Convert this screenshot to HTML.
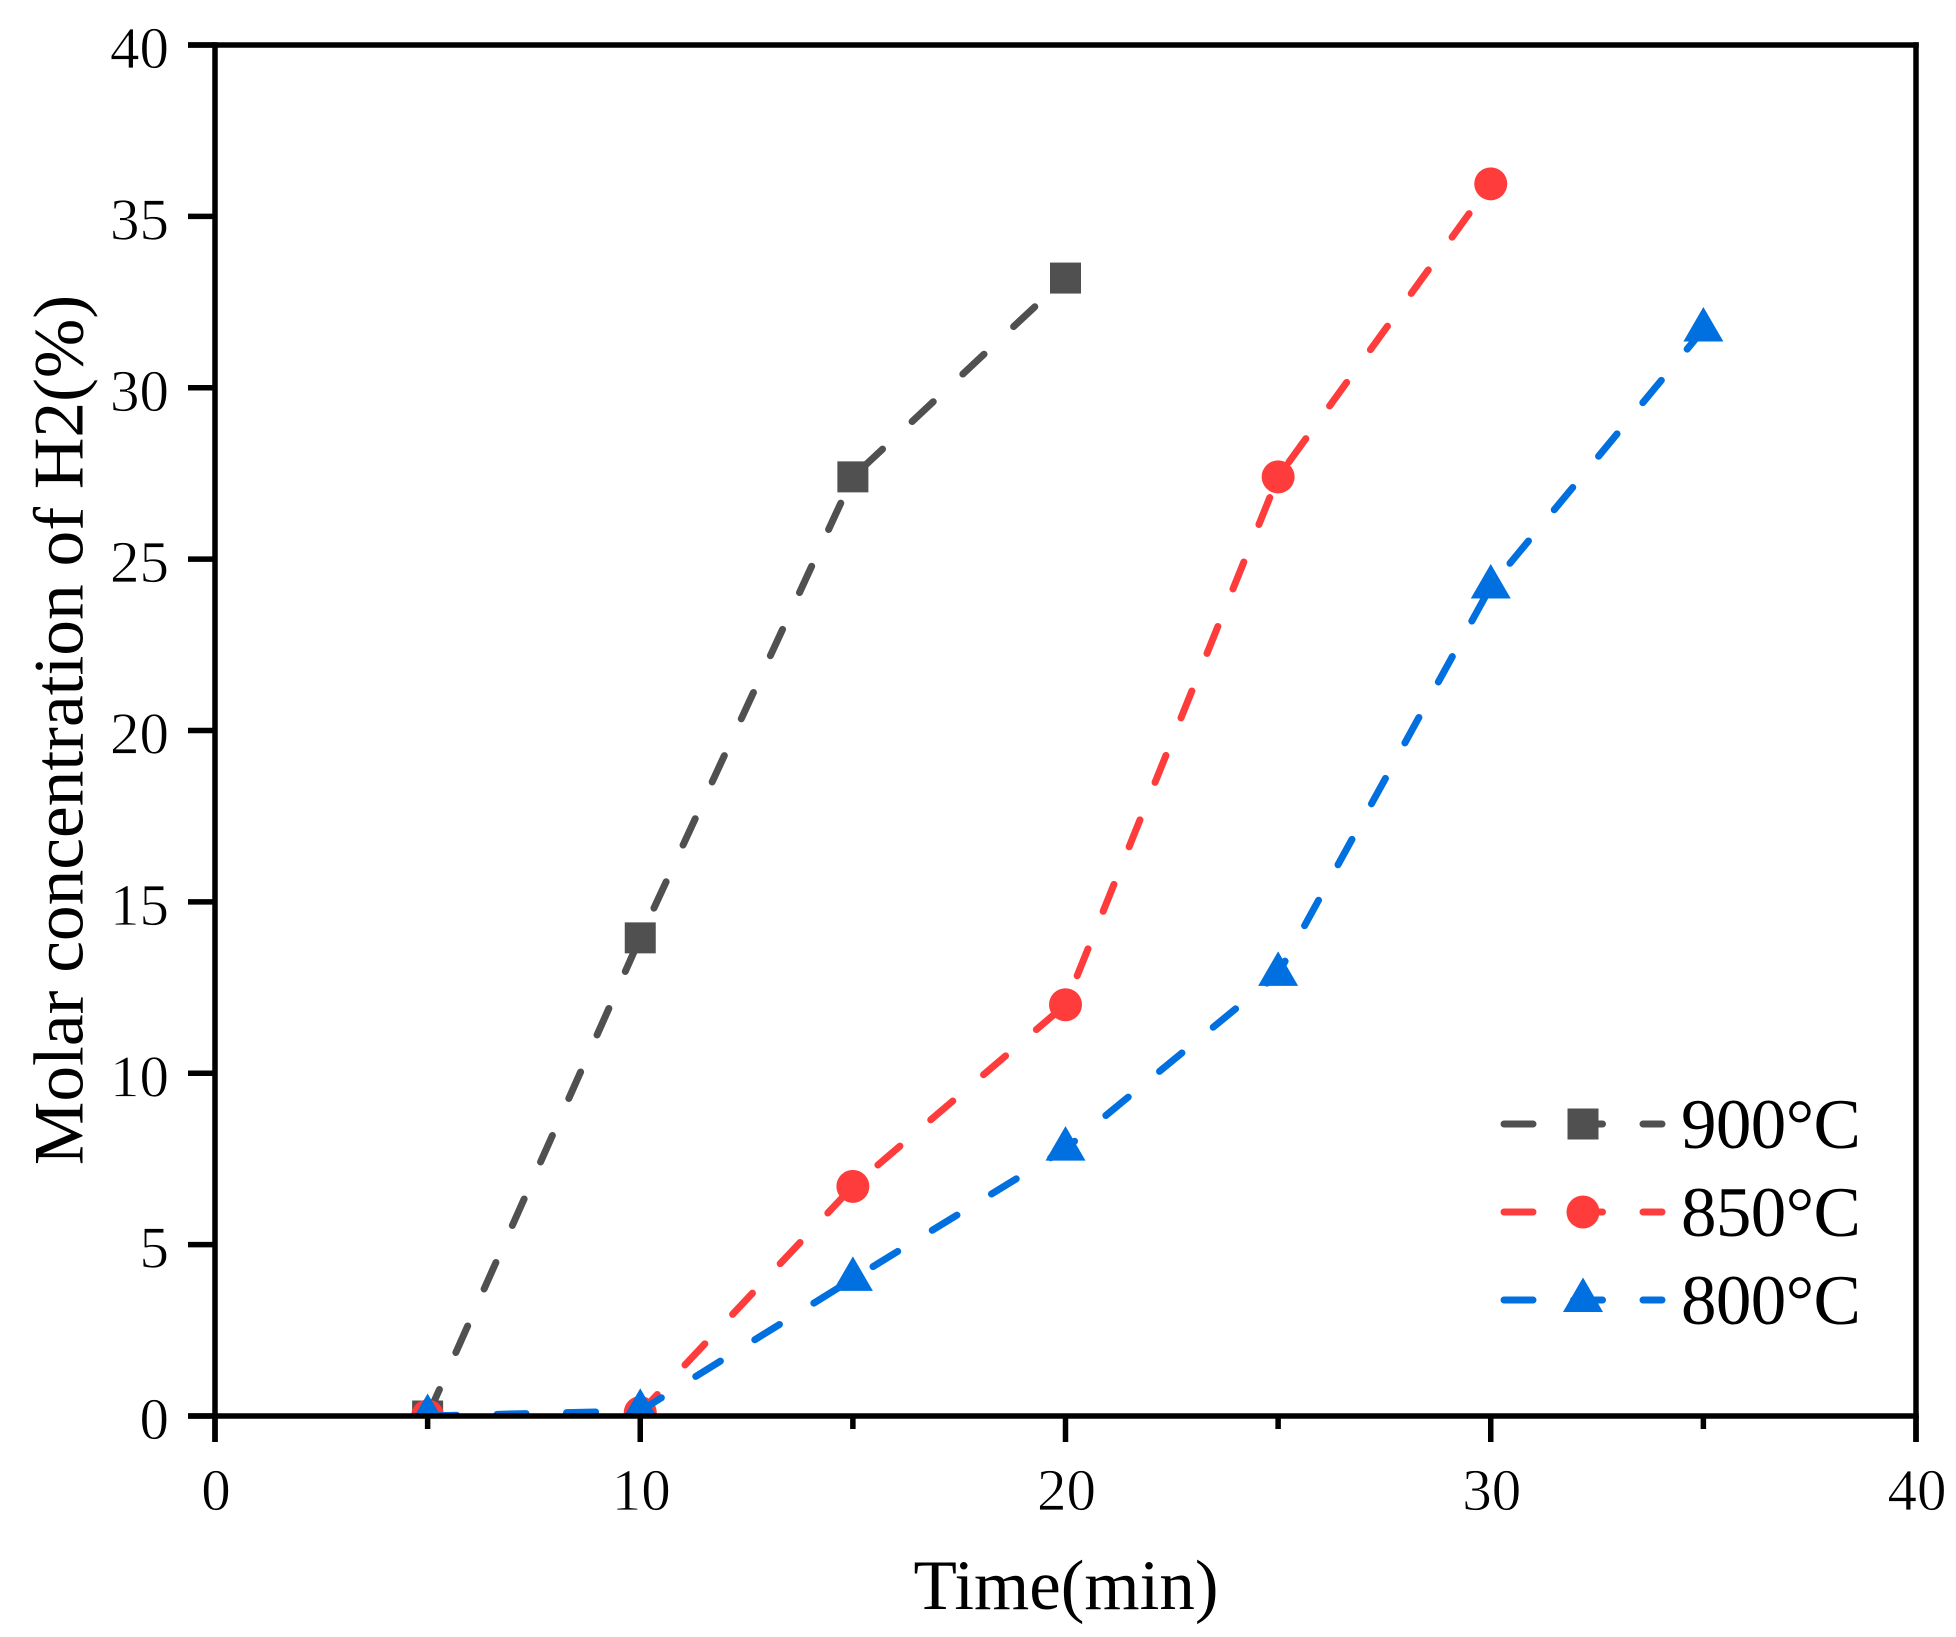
<!DOCTYPE html>
<html lang="en">
<head>
<meta charset="utf-8">
<title>Molar concentration of H2 over time</title>
<style>
html,body{margin:0;padding:0;background:#fff;}
body{width:1956px;height:1637px;overflow:hidden;}
svg{display:block;}
text{font-family:"Liberation Serif","Noto Serif CJK SC",serif;fill:#000;}
.tick-text{stroke:#fff;stroke-width:0.7px;}
</style>
</head>
<body>
<svg id="chart" xmlns="http://www.w3.org/2000/svg" width="1956" height="1637" viewBox="0 0 1956 1637">
  <defs><clipPath id="plot-clip"><rect x="215" y="45" width="1701" height="1371"></rect></clipPath></defs>
  <rect width="1956" height="1637" fill="#fff"></rect>
  <g id="series-layer" clip-path="url(#plot-clip)"></g>
  <g id="axes-layer"></g>
  <g id="legend-layer"></g>
  <text x="1066" y="1609" font-size="71" text-anchor="middle">Time(min)</text>
  <text transform="translate(82.5 730) rotate(-90)" font-size="71.4" text-anchor="middle">Molar concentration of H2(%)</text>
</svg>
<script>
const seriesNames = ['900', '850', '800'];
const seriesColors = ['#505050', '#ff3c3c', '#0070e0'];
const seriesMarkers = ['square', 'circle', 'triangle'];
const times900 = [5, 10, 15, 20];
const values900 = [0, 13.95, 27.4, 33.2];
const times850 = [5, 10, 15, 20, 25, 30];
const values850 = [0, 0.1, 6.7, 12, 27.4, 35.95];
const times800 = [5, 10, 15, 20, 25, 30, 35];
const values800 = [0, 0.15, 4, 7.8, 12.9, 24.2, 31.7];
const xTickValues = [0, 5, 10, 15, 20, 25, 30, 35, 40];
const xTickLabels = ['0', '', '10', '', '20', '', '30', '', '40'];
const yTickValues = [0, 5, 10, 15, 20, 25, 30, 35, 40];
const yTickLabels = ['0', '5', '10', '15', '20', '25', '30', '35', '40'];

const NS = 'http://www.w3.org/2000/svg';
const LEFT = 215, RIGHT = 1916, TOP = 45, BOTTOM = 1416;
const X_MAX = 40, Y_MAX = 40;
const xScale = v => LEFT + v / X_MAX * (RIGHT - LEFT);
const yScale = v => BOTTOM - v / Y_MAX * (BOTTOM - TOP);

function make(tag, attrs, parent) {
  const node = document.createElementNS(NS, tag);
  for (const key in attrs) node.setAttribute(key, attrs[key]);
  parent.appendChild(node);
  return node;
}
function markerNode(kind, cx, cy, color, parent) {
  if (kind === 'square') {
    return make('rect', { x: cx - 15.5, y: cy - 15.5, width: 31, height: 31, fill: color }, parent);
  }
  if (kind === 'circle') {
    return make('circle', { cx: cx, cy: cy, r: 16.5, fill: color }, parent);
  }
  return make('polygon', { points: (cx) + ',' + (cy - 22.5) + ' ' + (cx + 20) + ',' + (cy + 12) + ' ' + (cx - 20) + ',' + (cy + 12), fill: color }, parent);
}

const seriesLayer = document.getElementById('series-layer');
const axesLayer = document.getElementById('axes-layer');
const legendLayer = document.getElementById('legend-layer');
const seriesTimes = [times900, times850, times800];
const seriesValues = [values900, values850, values800];

seriesNames.forEach((name, i) => {
  const group = make('g', {}, seriesLayer);
  
  
  const pts = seriesTimes[i].map((t, k) => xScale(t) + ',' + yScale(seriesValues[i][k])).join(' ');
  const line = make('polyline', { points: pts, fill: 'none', stroke: seriesColors[i], 'stroke-width': 7, 'stroke-linecap': 'round', 'stroke-linejoin': 'round', 'stroke-dasharray': '29 40.5' }, group);
  
  
  seriesTimes[i].forEach((t, k) => {
    const mark = markerNode(seriesMarkers[i], xScale(t), yScale(seriesValues[i][k]), seriesColors[i], group);
    
    
  });
});

const spineLeft = make('line', { x1: LEFT, y1: TOP - 2.75, x2: LEFT, y2: 1442, stroke: '#000', 'stroke-width': 5.5 }, axesLayer);


const spineRight = make('line', { x1: RIGHT, y1: TOP - 2.75, x2: RIGHT, y2: 1442, stroke: '#000', 'stroke-width': 5.5 }, axesLayer);


const spineTop = make('line', { x1: 188, y1: TOP, x2: RIGHT + 2.75, y2: TOP, stroke: '#000', 'stroke-width': 5.5 }, axesLayer);


const spineBottom = make('line', { x1: 188, y1: BOTTOM, x2: RIGHT + 2.75, y2: BOTTOM, stroke: '#000', 'stroke-width': 5.5 }, axesLayer);



xTickValues.forEach((v, i) => {
  const major = xTickLabels[i] !== '';
  const tick = make('line', { x1: xScale(v), y1: BOTTOM, x2: xScale(v), y2: major ? 1442 : 1429, stroke: '#000', 'stroke-width': 5.5 }, axesLayer);
  
  
  if (major) {
    const label = make('text', { x: xScale(v) + 1, y: 1510, 'font-size': 59, 'text-anchor': 'middle', class: 'tick-text' }, axesLayer);
    label.textContent = xTickLabels[i];
    
    
  }
});
yTickValues.forEach((v, i) => {
  const tick = make('line', { x1: 188, y1: yScale(v), x2: LEFT, y2: yScale(v), stroke: '#000', 'stroke-width': 5.5 }, axesLayer);
  
  
  const label = make('text', { x: 169, y: yScale(v) + 23, 'font-size': 59, 'text-anchor': 'end', class: 'tick-text' }, axesLayer);
  label.textContent = yTickLabels[i];
  
  
});

seriesNames.forEach((name, i) => {
  const rowY = 1124 + i * 88;
  const entry = make('g', {}, legendLayer);
  
  
  const sample = make('line', { x1: 1504, y1: rowY, x2: 1662, y2: rowY, stroke: seriesColors[i], 'stroke-width': 7, 'stroke-linecap': 'round', 'stroke-dasharray': '29 40.5' }, entry);
  
  
  const symbol = markerNode(seriesMarkers[i], 1583, rowY, seriesColors[i], entry);
  
  
  const text = make('text', { x: 1681, y: rowY + 24, 'font-size': 71 }, entry);
  text.textContent = name + '°C';
  text.setAttribute('letter-spacing', '-0.6');
  
  
});
</script>
</body>
</html>
